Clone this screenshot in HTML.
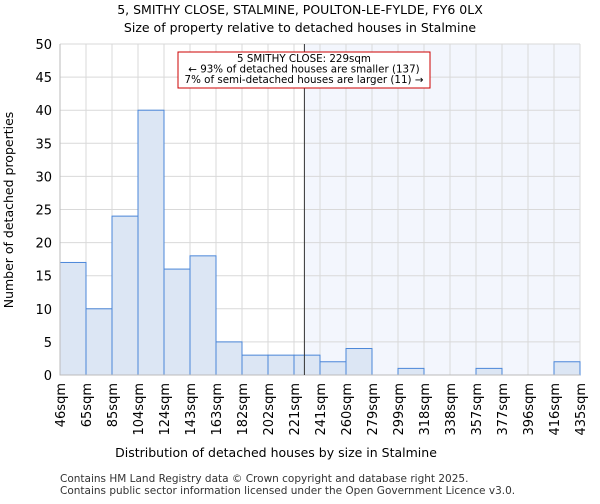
<!DOCTYPE html>
<html><head><meta charset="utf-8"><style>
body{margin:0;background:#fff;font-family:"DejaVu Sans","Liberation Sans",sans-serif;}
</style></head><body>
<svg id="chart" width="600" height="500" xmlns="http://www.w3.org/2000/svg" font-family="DejaVu Sans, Liberation Sans, sans-serif">
<text x="300" y="14" text-anchor="middle" font-size="12.5" fill="#000">5, SMITHY CLOSE, STALMINE, POULTON-LE-FYLDE, FY6 0LX</text>
<text x="300" y="32" text-anchor="middle" font-size="12.5" fill="#000">Size of property relative to detached houses in Stalmine</text>
<g id="grid"></g><g id="bars"></g><g id="axes"></g>
<text x="276" y="457" text-anchor="middle" font-size="12.5">Distribution of detached houses by size in Stalmine</text>
<text transform="translate(13,210) rotate(-90)" text-anchor="middle" font-size="12.5">Number of detached properties</text>
<text x="60" y="482" font-size="10.5" fill="#333">Contains HM Land Registry data © Crown copyright and database right 2025.</text>
<text x="60" y="494" font-size="10.5" fill="#333">Contains public sector information licensed under the Open Government Licence v3.0.</text>
</svg>
<script>
const binLabels=["46sqm","65sqm","85sqm","104sqm","124sqm","143sqm","163sqm","182sqm","202sqm","221sqm","241sqm","260sqm","279sqm","299sqm","318sqm","338sqm","357sqm","377sqm","396sqm","416sqm","435sqm"];
const binEdges=[46,65,85,104,124,143,163,182,202,221,241,260,279,299,318,338,357,377,396,416,435];
const counts=[17,10,24,40,16,18,5,3,3,3,2,4,0,1,0,0,1,0,0,2];
const yTicks=[0,5,10,15,20,25,30,35,40,45,50];
const propertySize=229;
const L=60,R=580,T=44,B=375,yMax=50;
const NS="http://www.w3.org/2000/svg";
const n=counts.length,bw=(R-L)/n;
const xIdx=i=>L+i*bw;
const xVal=v=>{for(let i=0;i<binEdges.length-1;i++){if(v>=binEdges[i]&&v<=binEdges[i+1])return xIdx(i+(v-binEdges[i])/(binEdges[i+1]-binEdges[i]));}return R;};
const y=v=>B-(v/yMax)*(B-T);
function mk(tag,attrs,parent){const e=document.createElementNS(NS,tag);for(const k in attrs)e.setAttribute(k,attrs[k]);parent.appendChild(e);return e;}
const grid=document.getElementById('grid'),bars=document.getElementById('bars'),axes=document.getElementById('axes');
const px=xVal(propertySize);
const shade=mk('rect',{x:px,y:T,width:R-px,height:B-T,fill:'#f3f6fd'},grid);


yTicks.forEach(t=>{
 const g=mk('line',{x1:L,x2:R,y1:y(t),y2:y(t),stroke:'#d9d9d9','stroke-width':1},grid);
 
 
 const tx=mk('text',{x:L-8,y:y(t)+5,'text-anchor':'end','font-size':13},axes);
 tx.textContent=t;
 
 
});
binLabels.forEach((lab,i)=>{
 const g=mk('line',{x1:xIdx(i),x2:xIdx(i),y1:T,y2:B,stroke:'#d9d9d9','stroke-width':1},grid);
 
 
 const tx=mk('text',{transform:`translate(${xIdx(i)+5},${B+8}) rotate(-90)`,'text-anchor':'end','font-size':13},axes);
 tx.textContent=lab;
 
 
});
counts.forEach((c,i)=>{
 if(c<=0)return;
 const r=mk('rect',{x:xIdx(i),y:y(c),width:bw,height:B-y(c),fill:'#dce6f4',stroke:'#4a86d8','stroke-width':1},bars);
 
 
});
const ax=mk('path',{d:`M${L},${T}V${B}H${R}`,fill:'none',stroke:'#bbb'},axes);


const ml=mk('line',{x1:px,x2:px,y1:T,y2:B,stroke:'#333','stroke-width':1},axes);


const box=mk('rect',{x:178,y:52,width:252,height:36,fill:'#fff',stroke:'#c00','stroke-width':1},axes);


["5 SMITHY CLOSE: 229sqm","← 93% of detached houses are smaller (137)","7% of semi-detached houses are larger (11) →"].forEach((s,i)=>{
 const t=mk('text',{x:304,y:62+i*10.5,'text-anchor':'middle','font-size':10.3},axes);
 t.textContent=s;
 
 
});
</script>
</body></html>
